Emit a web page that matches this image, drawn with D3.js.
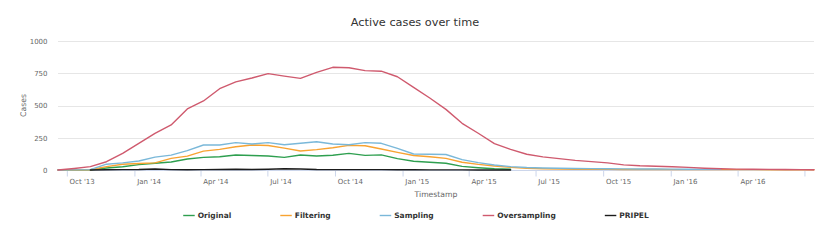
<!DOCTYPE html>
<html>
<head>
<meta charset="utf-8">
<script src="https://cdn.jsdelivr.net/npm/d3@7"></script>
<style>
  html, body { margin: 0; padding: 0; background: #fff; }
  svg { display: block; font-family: "DejaVu Sans", Verdana, sans-serif; }
</style>
</head>
<body>
<svg id="chart" width="830" height="240"></svg>
<script>
const dates = ["2013-09-19","2013-10-11","2013-11-02","2013-11-24","2013-12-16","2014-01-07","2014-01-29","2014-02-20","2014-03-14","2014-04-05","2014-04-27","2014-05-19","2014-06-10","2014-07-02","2014-07-24","2014-08-15","2014-09-06","2014-09-28","2014-10-20","2014-11-11","2014-12-03","2014-12-25","2015-01-16","2015-02-07","2015-03-01","2015-03-23","2015-04-14","2015-05-06","2015-05-28","2015-06-19","2015-07-11","2015-08-02","2015-08-24","2015-09-15","2015-10-07","2015-10-29","2015-11-20","2015-12-12","2016-01-03","2016-01-25","2016-02-16","2016-03-09","2016-03-31","2016-04-22","2016-05-14","2016-06-05","2016-06-27","2016-07-14"];

const original = [0,0,2,15,25,42,52,62,85,98,103,116,112,108,98,116,108,114,129,113,117,88,68,60,52,28,18,10,6];
const filtering = [0,0,2,26,45,50,55,90,108,146,160,180,194,190,170,147,158,173,191,188,163,137,112,103,90,60,44,31,20,14,10,8,6,5,5,4,4,4,3,3,3,3,3,3,2,2,2,2];
const sampling = [0,1,3,45,55,70,100,115,150,194,194,212,202,212,196,207,219,202,196,212,207,168,124,122,120,80,57,39,26,19,15,13,12,11,10,9,8,8,7,6,5,5];
const oversampling = [0,12,26,64,129,207,284,349,473,535,630,683,713,747,728,710,757,796,793,770,766,723,640,558,470,362,285,205,160,122,102,88,75,65,55,40,33,29,25,20,14,10,7,6,5,4,3,2];
const pripel = [null,null,0,2,3,4,8,3,2,3,4,6,4,6,10,8,4,3,3,3,3,2,2,1,1,1,0,0,0];

const seriesNames = ["Original","Filtering","Sampling","Oversampling","PRIPEL"];
const seriesColors = ["#2e9f4f","#f8a331","#7ab8d9","#cf5a6e","#1b1b1b"];
const yTicks = [0,250,500,750,1000];
const xTickLabels = ["Oct '13","Jan '14","Apr '14","Jul '14","Oct '14","Jan '15","Apr '15","Jul '15","Oct '15","Jan '16","Apr '16",""];

const seriesValues = [original, filtering, sampling, oversampling, pripel];
const parse = d3.utcParse("%Y-%m-%d");
const dateObjs = dates.map(parse);

const svg = d3.select("#chart");
const W = 830, H = 240;
const plot = {left: 58, right: 814, top: 41, bottom: 170};

const x = d3.scaleUtc().domain([dateObjs[0], dateObjs[dateObjs.length-1]]).range([plot.left, plot.right]);
const y = d3.scaleLinear().domain([0, 1000]).range([plot.bottom, plot.top]);

// title
svg.append("text").attr("x", W/2).attr("y", 26).attr("text-anchor","middle")
  .attr("font-size", 11.3).attr("fill", "#333333").text("Active cases over time");

// grid lines
svg.append("g").selectAll("line").data(yTicks).join("line")
  .attr("x1", plot.left).attr("x2", plot.right)
  .attr("y1", d => Math.round(y(d)) + 0.5).attr("y2", d => Math.round(y(d)) + 0.5)
  .attr("stroke", "#e6e6e6").attr("stroke-width", 1);

// y axis labels
const yAxis = d3.axisLeft(y).tickValues(yTicks).tickFormat(d3.format("d")).tickSize(0).tickPadding(0);
const gy = svg.append("g").attr("transform", `translate(${plot.left - 10.5},0)`).call(yAxis);
gy.select(".domain").remove();
gy.selectAll("text").attr("font-size", 7).attr("fill", "#666666").attr("font-family", "DejaVu Sans");

// y axis title
svg.append("text").attr("transform", `translate(26,${(plot.top+plot.bottom)/2}) rotate(-90)`)
  .attr("text-anchor","middle").attr("font-size", 7.7).attr("fill","#666666").text("Cases");

// x axis
const xTicks = d3.utcMonth.every(3).range(d3.utcMonth.ceil(dateObjs[0]), dateObjs[dateObjs.length-1]);
const xAxis = d3.axisBottom(x).tickValues(xTicks).tickSize(6)
  .tickFormat((d,i) => xTickLabels[i] || "");
const gx = svg.append("g").attr("transform", `translate(0,${plot.bottom + 0.5})`).call(xAxis);
gx.select(".domain").attr("stroke", "#ccd6eb").attr("d", `M${plot.left},0H${plot.right}`);
gx.selectAll(".tick line").attr("stroke", "#ccd6eb");
gx.selectAll(".tick text").attr("text-anchor","start").attr("x", 2.3).attr("y", 8.5)
  .attr("font-size", 7).attr("fill", "#666666").attr("font-family", "DejaVu Sans");

// x axis title
svg.append("text").attr("x", (plot.left+plot.right)/2).attr("y", 196.5).attr("text-anchor","middle")
  .attr("font-size", 7.7).attr("fill", "#666666").text("Timestamp");

// series
const line = d3.line().defined(d => d.v != null).x(d => x(d.t)).y(d => y(d.v));
const gs = svg.append("g");
seriesValues.forEach((vals, k) => {
  const pts = vals.map((v, i) => ({t: dateObjs[i], v}));
  gs.append("path").datum(pts).attr("d", line).attr("fill","none")
    .attr("stroke", seriesColors[k]).attr("stroke-width", 1.4)
    .attr("stroke-linejoin","round").attr("stroke-linecap","round");
});

// legend
const lg = svg.append("g");
const items = seriesNames.map((name, k) => {
  const g = lg.append("g");
  g.append("line").attr("x1", 0).attr("x2", 11.5).attr("y1", 0).attr("y2", 0)
    .attr("stroke", seriesColors[k]).attr("stroke-width", 1.4);
  const t = g.append("text").attr("x", 14.5).attr("y", 2.7).attr("font-size", 7.5)
    .attr("font-weight", "bold").attr("fill", "#333333").text(name);
  return {g, w: 14.5 + t.node().getComputedTextLength()};
});
const itemDist = 49;
const total = d3.sum(items, d => d.w) + itemDist * (items.length - 1);
let cx = W/2 - total/2 + 1;
items.forEach(it => { it.g.attr("transform", `translate(${cx},215.5)`); cx += it.w + itemDist; });
</script>
</body>
</html>
